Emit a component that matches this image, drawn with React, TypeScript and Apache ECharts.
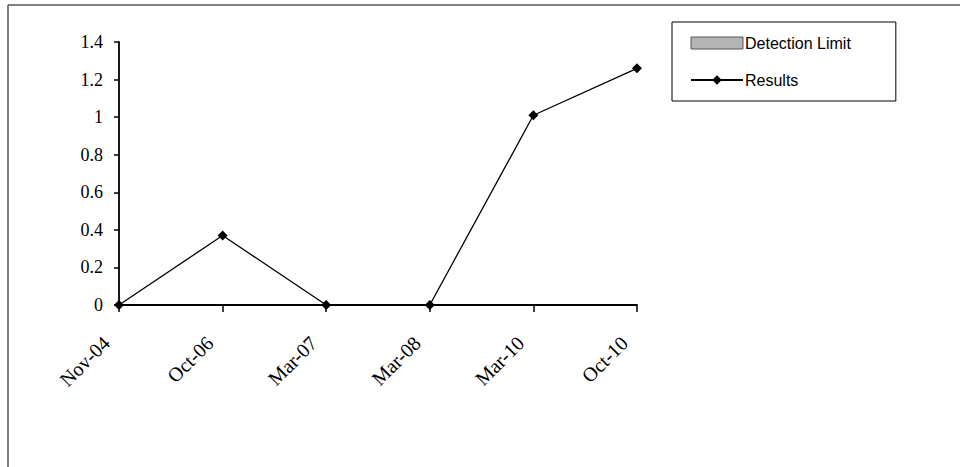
import React, { useEffect, useRef } from "react";
import * as echarts from "echarts";

const categories = ["Nov-04", "Oct-06", "Mar-07", "Mar-08", "Mar-10", "Oct-10"];
const results = [0, 0.37, 0, 0, 1.01, 1.26];
const detectionLimit = [0, 0, 0, 0, 0, 0];

export default function App() {
  const ref = useRef<HTMLDivElement>(null);
  useEffect(() => {
    if (!ref.current) return;
    const chart = echarts.init(ref.current, null, { renderer: "svg" });
    chart.setOption({
      animation: false,
      backgroundColor: "#ffffff",
      grid: { left: 119, right: 323, top: 42, bottom: 162, containLabel: false },
      legend: {
        orient: "vertical",
        left: 672,
        top: 22,
        padding: [13, 45, 13, 18],
        itemGap: 21,
        itemWidth: 52,
        itemHeight: 12,
        borderColor: "#000",
        borderWidth: 1,
        backgroundColor: "#fff",
        textStyle: { fontFamily: "Liberation Sans", fontSize: 16, color: "#000", padding: [0, 0, 0, -3] },
        data: [
          { name: "Detection Limit", icon: "rect", itemStyle: { color: "#b4b4b4", borderColor: "#555", borderWidth: 1 } },
          { name: "Results" },
        ],
      },
      xAxis: {
        type: "category",
        data: categories,
        boundaryGap: false,
        axisLine: { lineStyle: { color: "#000", width: 1.8 } },
        axisTick: { alignWithLabel: true, length: 7, lineStyle: { color: "#000", width: 1.5 } },
        axisLabel: {
          rotate: 45,
          margin: 22,
          padding: [0, 18, 0, 0],
          fontFamily: "Liberation Serif",
          fontSize: 20,
          color: "#000",
        },
      },
      yAxis: {
        type: "value",
        min: 0,
        max: 1.4,
        interval: 0.2,
        splitLine: { show: false },
        axisLine: { show: true, lineStyle: { color: "#000", width: 1.8 } },
        axisTick: { show: true, length: 5, lineStyle: { color: "#000", width: 1.5 } },
        axisLabel: {
          margin: 16,
          fontFamily: "Liberation Serif",
          fontSize: 18,
          color: "#000",
          formatter: (v: number) => String(Math.round(v * 10) / 10),
        },
      },
      series: [
        {
          name: "Detection Limit",
          type: "line",
          data: detectionLimit,
          symbol: "none",
          lineStyle: { width: 0 },
          areaStyle: { color: "#b4b4b4", opacity: 0 },
          itemStyle: { color: "#b4b4b4" },
        },
        {
          name: "Results",
          type: "line",
          data: results,
          symbol: "diamond",
          symbolSize: 10,
          lineStyle: { color: "#000", width: 1.3 },
          itemStyle: { color: "#000" },
        },
      ],
      graphic: [
        { type: "line", shape: { x1: 8, y1: 5, x2: 960, y2: 5 }, style: { stroke: "#555", lineWidth: 1.5 } },
        { type: "line", shape: { x1: 8, y1: 5, x2: 8, y2: 467 }, style: { stroke: "#555", lineWidth: 1.5 } },
      ],
    });
    return () => chart.dispose();
  }, []);
  return (
    <div
      ref={ref}
      style={{ position: "fixed", left: 0, top: 0, width: 960, height: 467 }}
    />
  );
}
